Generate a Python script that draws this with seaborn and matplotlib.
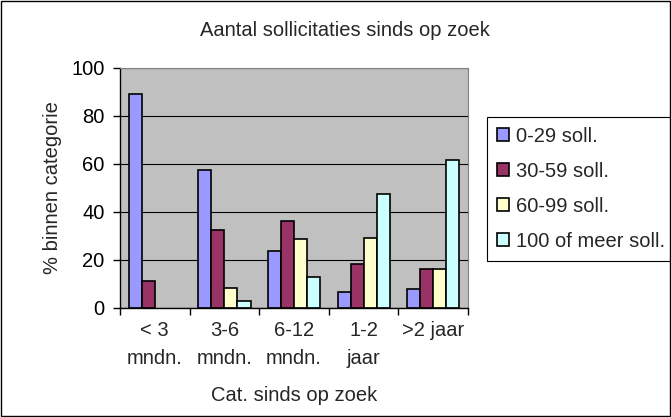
import numpy as np
import pandas as pd
import seaborn as sns
from matplotlib import pyplot as plt

# data
categories = ['< 3\nmndn.', '3-6\nmndn.', '6-12\nmndn.', '1-2\njaar', '>2 jaar']
series = ['0-29 soll.', '30-59 soll.', '60-99 soll.', '100 of meer soll.']
soll_0_29 = [89, 57.4, 23.5, 6.3, 7.8]
soll_30_59 = [11.2, 32.2, 36.2, 18.3, 15.9]
soll_60_99 = [np.nan, 8.0, 28.4, 29.1, 15.9]
soll_100 = [np.nan, 2.7, 12.7, 47.2, 61.5]
colors = ['#9999FF', '#993366', '#FFFFCC', '#CCFFFF']

rows = []
for name, vals in zip(series, [soll_0_29, soll_30_59, soll_60_99, soll_100]):
    for cat, v in zip(categories, vals):
        rows.append({'cat': cat, 'serie': name, 'pct': v})
df = pd.DataFrame(rows)

sns.set_style('white')
plt.rcParams['font.family'] = ['Liberation Sans', 'DejaVu Sans']
fs = 14.5

fig = plt.figure(figsize=(6.71, 4.17), dpi=100)
ax = fig.add_axes([120/671, 1 - 307.5/417, 348/671, 240/417])
ax.set_facecolor('#C0C0C0')

sns.barplot(data=df, x='cat', y='pct', hue='serie', order=categories, hue_order=series,
            palette=colors, width=0.75, edgecolor='black', linewidth=1.2,
            saturation=1, ax=ax, legend=True)

ax.set_ylim(0, 100)
ax.set_xlim(-0.5, 4.5)
ax.set_yticks([0, 20, 40, 60, 80, 100])
ax.yaxis.grid(True, color='black', linewidth=0.8)
ax.set_axisbelow(True)
ax.tick_params(axis='y', labelsize=fs, length=5, width=1, pad=6, direction='out', left=True, colors='black')
# category boundaries get the tick marks, labels sit in between
ax.set_xticks(np.arange(-0.5, 5, 1), minor=False)
ax.set_xticklabels([])
ax.set_xticks(np.arange(5), minor=True)
ax.set_xticklabels(categories, minor=True, fontsize=fs, linespacing=1.6)
ax.tick_params(axis='x', which='major', length=5, width=1, direction='out', bottom=True, colors='black')
ax.tick_params(axis='x', which='minor', length=0, pad=10)

for side in ['top', 'right']:
    ax.spines[side].set_color('#808080')
for side in ['left', 'bottom']:
    ax.spines[side].set_color('black')
    ax.spines[side].set_linewidth(1)

ax.set_xlabel('Cat. sinds op zoek', fontsize=fs)
ax.set_ylabel('% binnen categorie', fontsize=fs)
ax.xaxis.set_label_coords(0.5, (307.5 - 386) / 240)
ax.yaxis.set_label_coords((62 - 120) / 348, 0.5)
fig.text(345/671, 1 - 31/417, 'Aantal sollicitaties sinds op zoek', ha='center', va='center', fontsize=fs)

handles, labels = ax.get_legend_handles_labels()
ax.legend(handles, labels, loc='upper left', bbox_to_anchor=(487/671, 1 - 116.5/417),
          bbox_transform=fig.transFigure, frameon=True, fancybox=False, edgecolor='black',
          fontsize=fs, handlelength=0.6, handleheight=0.6, handletextpad=0.35,
          labelspacing=0.8, borderpad=0.5, borderaxespad=0, framealpha=1)
ax.get_legend().get_frame().set_linewidth(0.8)

fig.add_artist(plt.Rectangle((0.002, 0.003), 0.996, 0.994, transform=fig.transFigure,
                             fill=False, edgecolor='black', linewidth=1))

fig.savefig('out.png', dpi=100)
